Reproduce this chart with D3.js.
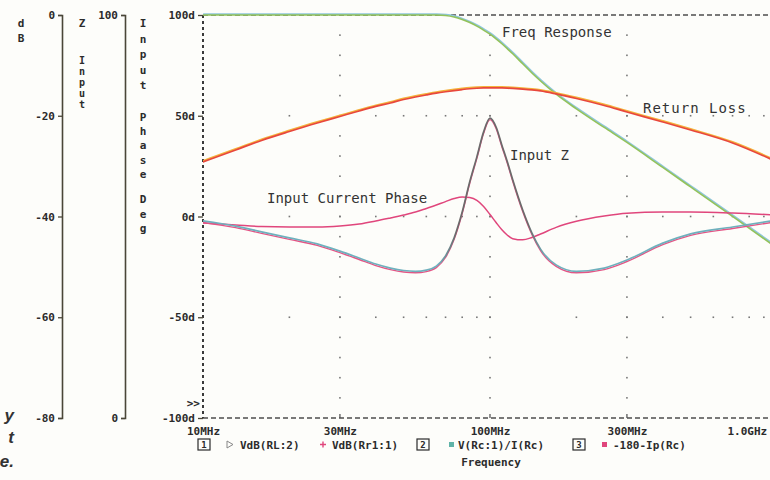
<!DOCTYPE html>
<html>
<head>
<meta charset="utf-8">
<script src="https://cdn.jsdelivr.net/npm/d3@7"></script>
<style>
  html, body { margin: 0; padding: 0; background: #fdfdfa; overflow: hidden; }
  svg { display: block; }
  .vert { writing-mode: vertical-rl; text-orientation: upright; }
</style>
</head>
<body>
<svg id="chart" width="770" height="480"></svg>
<script>
// Sweep frequencies (MHz)
const freqs = [10, 13, 16, 20, 25, 30, 35, 40, 45, 50, 55, 60, 65, 70, 75, 80, 85, 90, 95, 100,
               105, 110, 115, 120, 130, 140, 150, 170, 200, 250, 300, 400, 500, 700, 1000];

// VdB(RL:2) - filter frequency response, dB
const freqResponseDb = [0, 0, 0, 0, 0, 0, 0, 0, 0, 0, 0, 0, 0, -0.1, -0.4, -0.9, -1.5, -2.2, -3.0, -3.8,
                        -4.74, -5.71, -6.71, -7.70, -9.68, -11.51, -13.10, -15.73, -18.63, -22.32,
                        -25.30, -30.26, -34.13, -39.98, -46.23];

// VdB(Rr1:1) - return loss, dB
const returnLossDb = [-29.17, -26.79, -24.90, -23.12, -21.43, -20.14, -19.05, -18.15, -17.46, -16.77,
                      -16.27, -15.87, -15.52, -15.24, -15.00, -14.80, -14.64, -14.54, -14.48, -14.46,
                      -14.46, -14.48, -14.52, -14.58, -14.72, -14.88, -15.08, -15.67, -16.57, -17.96,
                      -19.25, -21.23, -22.82, -25.40, -29.17];

// V(Rc:1)/I(Rc) - input impedance, ohms
const inputZ = [48.9, 47.6, 46.2, 44.7, 43.2, 41.4, 39.7, 38.2, 37.2, 36.6,
                36.4, 36.7, 37.7, 40.2, 44.7, 51.1, 58.6, 64.8, 71.0, 74.4,
                72.2, 67.7, 63.5, 59.1, 51.6, 45.9, 41.9, 38.0, 36.4, 37.2,
                39.2, 43.4, 45.7, 47.4, 49.1];

// -180-Ip(Rc) - input current phase, degrees
const inputPhaseDeg = [-3.2, -4.2, -5.0, -5.2, -5.2, -4.7, -3.7, -2.2, -0.7, 0.7,
                       2.2, 4.0, 5.7, 7.4, 8.9, 9.7, 9.4, 8.0, 5.0, 1.0,
                       -3.0, -6.6, -9.3, -11.0, -11.6, -10.4, -8.7, -5.4, -2.4, 0.2,
                       1.6, 2.2, 2.2, 1.7, 0.7];

// Axis ticks and labels
const degTicks = [100, 50, 0, -50, -100];
const degTickLabels = ["100d", "50d", "0d", "-50d", "-100d"];
const dbTicks = [0, -20, -40, -60, -80];
const dbTickLabels = ["0", "-20", "-40", "-60", "-80"];
const zTicks = [100, 0];
const zTickLabels = ["100", "0"];
const freqTicks = [10, 30, 100, 300, 1000];
const freqTickLabels = ["10MHz", "30MHz", "100MHz", "300MHz", "1.0GHz"];
const minorFreqs = [20, 30, 40, 50, 60, 70, 80, 90, 100, 200, 300, 400, 500, 600, 700, 800, 900];
const gridDegLevels = [50, 0, -50];
const gridFreqLines = [30, 100, 300];

const annotations = ["Freq Response", "Return Loss", "Input Z", "Input Current Phase"];
const legendIds = ["1", "2", "3"];
const legendTraces = ["VdB(RL:2)", "VdB(Rr1:1)", "V(Rc:1)/I(Rc)", "-180-Ip(Rc)"];

// ---------------------------------------------------------------
const svg = d3.select("#chart");
const mono = '"DejaVu Sans Mono", monospace';
const ink = "#2b2b2b";
const axisInk = "#4a4638";

const x = d3.scaleLog().domain([10, 1000]).range([203, 777]);
const yDeg = d3.scaleLinear().domain([-100, 100]).range([418, 15]);
const yDb = d3.scaleLinear().domain([-80, 0]).range([418, 15]);
const yZ = d3.scaleLinear().domain([0, 100]).range([418, 15]);

const defs = svg.append("defs");
defs.append("clipPath").attr("id", "plotClip")
  .append("rect").attr("x", 203).attr("y", 6).attr("width", 580).attr("height", 418);

// impedance trace shifts from teal to grey across the resonance
const zGrad = defs.append("linearGradient").attr("id", "zGrad")
  .attr("gradientUnits", "userSpaceOnUse").attr("x1", 203).attr("x2", 777).attr("y1", 0).attr("y2", 0);
[[203, "#6fb0bd"], [438, "#6fb0bd"], [456, "#6b6b6b"], [528, "#6b6b6b"], [546, "#6fb0bd"], [777, "#6fb0bd"]]
  .forEach(([px, c]) => zGrad.append("stop").attr("offset", (px - 203) / 574).attr("stop-color", c));

// ---- dotted grid ----
const grid = svg.append("g").attr("fill", "#777");
gridFreqLines.forEach(f => {
  grid.selectAll(null).data(d3.range(-90, 100, 10)).enter().append("rect")
    .attr("x", x(f) - 0.8).attr("y", d => yDeg(d) - 0.8).attr("width", 1.6).attr("height", 1.6);
});
gridDegLevels.forEach(v => {
  grid.selectAll(null).data(minorFreqs).enter().append("rect")
    .attr("x", d => x(d) - 0.8).attr("y", yDeg(v) - 0.8).attr("width", 1.6).attr("height", 1.6);
});

// ---- plot frame ----
const frame = svg.append("g").attr("stroke", "#4d4d4d").attr("fill", "none");
frame.append("line").attr("x1", 203).attr("x2", 777).attr("y1", yDeg(100)).attr("y2", yDeg(100))
  .attr("stroke-width", 1.5).attr("stroke-dasharray", "5,3");
frame.append("line").attr("x1", 203).attr("x2", 777).attr("y1", yDeg(-100)).attr("y2", yDeg(-100))
  .attr("stroke-width", 1.5).attr("stroke-dasharray", "5,3");
frame.append("line").attr("x1", 203).attr("x2", 203).attr("y1", yDeg(100)).attr("y2", yDeg(-100))
  .attr("stroke-width", 2).attr("stroke-dasharray", "3,3").attr("stroke", "#3a3a3a");
// small frequency ticks on the bottom edge
frame.selectAll(null).data(gridFreqLines).enter().append("line")
  .attr("x1", d => x(d)).attr("x2", d => x(d)).attr("y1", yDeg(-100)).attr("y2", yDeg(-100) - 4)
  .attr("stroke-width", 1.2);

// ---- traces ----
const lineOf = (scale, vals) => d3.line()
  .x((d, i) => x(freqs[i])).y(d => scale(d)).curve(d3.curveMonotoneX)(vals);

const traces = svg.append("g").attr("clip-path", "url(#plotClip)").attr("fill", "none")
  .attr("stroke-linejoin", "round").attr("stroke-linecap", "round");

// frequency response (green with cyan fringe)
traces.append("path").attr("d", lineOf(yDb, freqResponseDb))
  .attr("stroke", "#8fc6dc").attr("stroke-width", 1.6).attr("transform", "translate(0.6,-0.9)");
traces.append("path").attr("d", lineOf(yDb, freqResponseDb))
  .attr("stroke", "#93c25a").attr("stroke-width", 1.6);

// return loss (red with orange fringe)
traces.append("path").attr("d", lineOf(yDb, returnLossDb))
  .attr("stroke", "#f4b13a").attr("stroke-width", 1.7).attr("transform", "translate(0,-1.1)");
traces.append("path").attr("d", lineOf(yDb, returnLossDb))
  .attr("stroke", "#e8473c").attr("stroke-width", 1.7);

// input current phase (magenta)
traces.append("path").attr("d", lineOf(yDeg, inputPhaseDeg))
  .attr("stroke", "#e0467c").attr("stroke-width", 1.5);

// input impedance (grey / teal with magenta fringe)
traces.append("path").attr("d", lineOf(yZ, inputZ))
  .attr("stroke", "#e45585").attr("stroke-width", 1.4).attr("transform", "translate(0,1.5)");
traces.append("path").attr("d", lineOf(yZ, inputZ))
  .attr("stroke", "url(#zGrad)").attr("stroke-width", 1.7);

// ---- axes ----
function styleAxis(g, size, weight) {
  g.selectAll("text").attr("font-family", mono).attr("font-size", size).attr("font-weight", weight)
    .attr("fill", ink);
  g.selectAll("line").attr("stroke", axisInk).attr("stroke-width", 1.3);
}

// main degree axis
const mainAx = svg.append("g").attr("transform", "translate(203,0)")
  .call(d3.axisLeft(yDeg).tickValues(degTicks).tickFormat((d, i) => degTickLabels[i]).tickSize(5).tickPadding(3));
mainAx.select(".domain").remove();
styleAxis(mainAx, 11, "bold");

// dB axis
const dbAx = svg.append("g").attr("transform", "translate(62,0)")
  .call(d3.axisLeft(yDb).tickValues(dbTicks).tickFormat((d, i) => dbTickLabels[i]).tickSize(4).tickSizeOuter(4).tickPadding(3));
dbAx.select(".domain").attr("stroke", axisInk).attr("stroke-width", 1.6);
styleAxis(dbAx, 11, "bold");

// impedance axis
const zAx = svg.append("g").attr("transform", "translate(125,0)")
  .call(d3.axisLeft(yZ).tickValues(zTicks).tickFormat((d, i) => zTickLabels[i]).tickSize(4).tickSizeOuter(4).tickPadding(3));
zAx.select(".domain").attr("stroke", axisInk).attr("stroke-width", 1.6);
styleAxis(zAx, 11, "bold");

// frequency axis labels
const xAx = svg.append("g").attr("transform", `translate(0,${yDeg(-100)})`)
  .call(d3.axisBottom(x).tickValues(freqTicks).tickFormat((d, i) => freqTickLabels[i]).tickSize(0).tickPadding(9.5));
xAx.select(".domain").remove();
styleAxis(xAx, 11, "bold");
xAx.selectAll(".tick").filter(d => d === 1000).select("text").attr("text-anchor", "start").attr("x", -50);

// overflow marker above the bottom-left corner
svg.append("text").attr("x", 200).attr("y", 407).attr("text-anchor", "end")
  .attr("font-family", mono).attr("font-size", 11).attr("font-weight", "bold").attr("fill", ink).text(">>");

// vertical axis titles (upright stacked letters)
function vertical(xPos, yTop, word, size, spacing) {
  svg.append("text").attr("class", "vert")
    .attr("x", xPos).attr("y", yTop)
    .attr("font-family", mono).attr("font-size", size).attr("font-weight", "bold")
    .attr("letter-spacing", spacing).attr("fill", ink).text(word);
}
vertical(21, 17, "dB", 11, 1.5);
vertical(82, 17, "Z", 11, 0);
vertical(82, 55, "Input", 10, 0);
vertical(143, 17, "Input", 11, 2.6);
vertical(143, 111, "Phase", 11, 1.2);
vertical(143, 193, "Deg", 11, 1.5);

// in-plot trace annotations
const annoPos = [[502, 37, 0], [643, 113, 1], [510, 160, 0], [267, 203, 0]];
svg.append("g").selectAll(null).data(annotations).enter().append("text")
  .attr("x", (d, i) => annoPos[i][0]).attr("y", (d, i) => annoPos[i][1])
  .attr("letter-spacing", (d, i) => annoPos[i][2])
  .attr("font-family", mono).attr("font-size", 14).attr("fill", "#333").text(d => d);

// ---- legend ----
const legY = 449;
const leg = svg.append("g").attr("font-family", mono).attr("font-size", 11).attr("font-weight", "bold").attr("fill", ink);
const boxX = [198, 417, 573];
legendIds.forEach((id, i) => {
  leg.append("rect").attr("x", boxX[i]).attr("y", legY - 10).attr("width", 12).attr("height", 11)
    .attr("fill", "none").attr("stroke", ink).attr("stroke-width", 1.2);
  leg.append("text").attr("x", boxX[i] + 6).attr("y", legY - 1).attr("text-anchor", "middle")
    .attr("font-size", 9).text(id);
});
const traceX = [240, 332, 458, 613];
legendTraces.forEach((t, i) => {
  leg.append("text").attr("x", traceX[i]).attr("y", legY).text(t);
});
// trace symbols
leg.append("path").attr("d", `M227,${legY - 8} L233,${legY - 4.5} L227,${legY - 1} Z`).attr("fill", "none").attr("stroke", "#888").attr("stroke-width", 1);
leg.append("path").attr("d", `M320,${legY - 4.5} H326 M323,${legY - 7.5} V${legY - 1.5}`).attr("stroke", "#e0467c").attr("stroke-width", 1.4);
leg.append("rect").attr("x", 449).attr("y", legY - 7).attr("width", 5).attr("height", 5).attr("fill", "#5fb3a8");
leg.append("rect").attr("x", 602).attr("y", legY - 7).attr("width", 5).attr("height", 5).attr("fill", "#e0467c");

svg.append("text").attr("x", 491).attr("y", 466).attr("text-anchor", "middle")
  .attr("font-family", mono).attr("font-size", 11).attr("font-weight", "bold").attr("fill", ink).text("Frequency");

// caption text running in from the left margin
const captionBits = ["y", "t", "e."];
const captionY = [421, 443, 467];
svg.append("g").selectAll(null).data(captionBits).enter().append("text")
  .attr("x", 14).attr("y", (d, i) => captionY[i]).attr("text-anchor", "end")
  .attr("font-family", '"Liberation Sans", sans-serif').attr("font-style", "italic").attr("font-weight", "bold")
  .attr("font-size", 17).attr("fill", "#333").text(d => d);
</script>
</body>
</html>
